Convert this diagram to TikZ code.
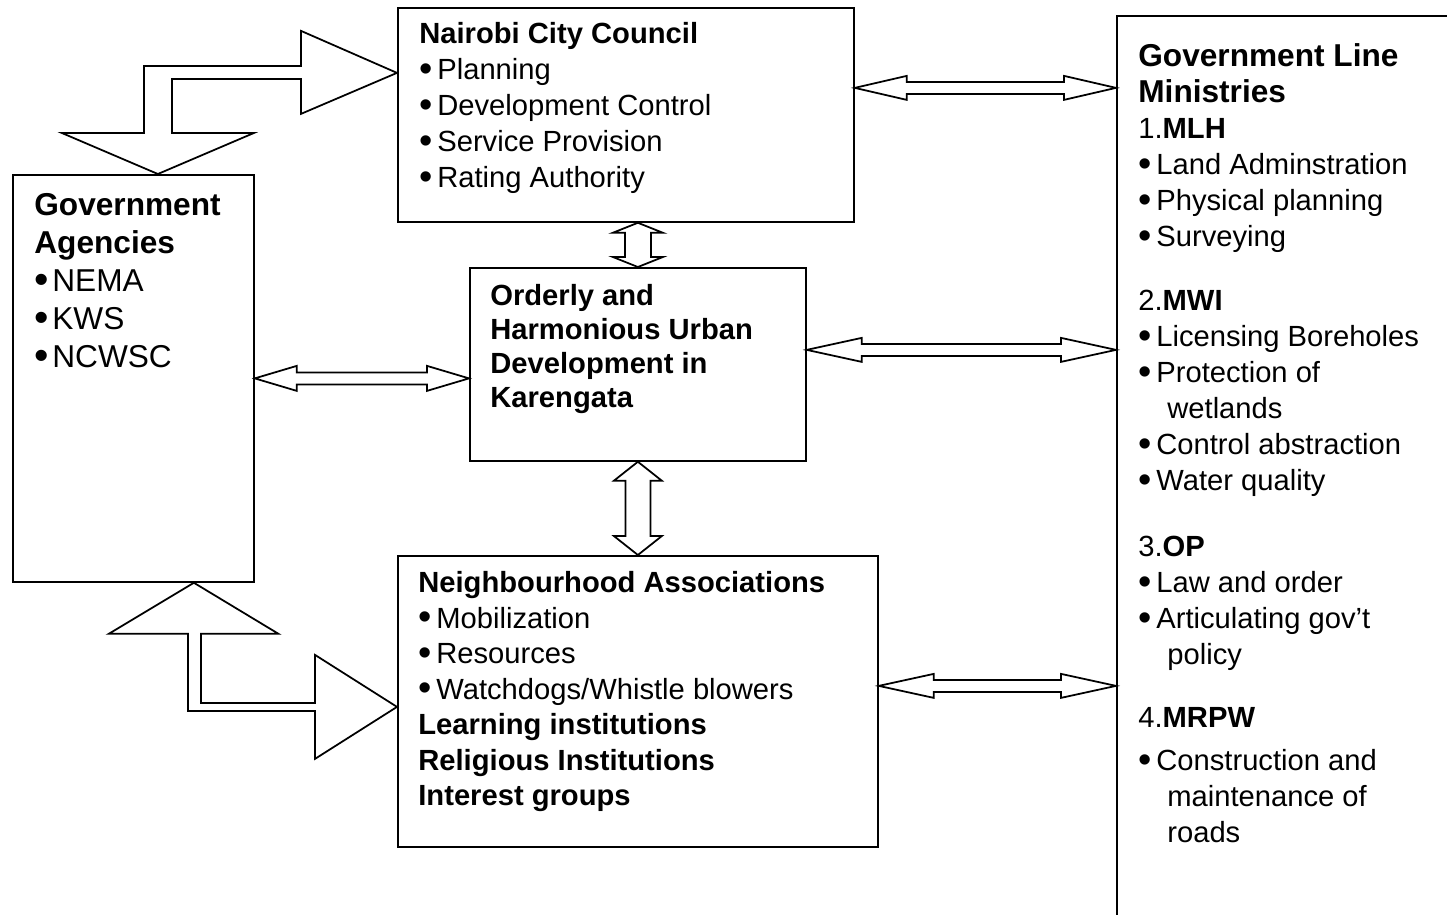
\documentclass[tikz,border=0pt]{standalone}
\usepackage{fontspec}
\setmainfont{Liberation Sans}
\usetikzlibrary{calc}
\newcommand{\itm}{\makebox[0.36cm][l]{\raisebox{-0.06em}{\scalebox{1.3}{\textbullet}}}}

\begin{document}
\begin{tikzpicture}
\tikzset{box/.style = {draw, line width=1pt, anchor=north west, inner sep=0pt}}
\tikzset{txt/.style = {anchor=north west, align=left, inner sep=0pt, font=\fontsize{16.6}{20.6}\selectfont}}
\tikzset{blk/.style = {draw, line width=1pt, line join=miter}}
\tikzset{dblh/.style args = {#1/#2/#3}{blk, to path={let \p1=(\tikztostart), \p2=(\tikztotarget) in
  (\p1) -- (\x1+#1,\y1+#2) -- (\x1+#1,\y1+#3) -- (\x2-#1,\y1+#3) -- (\x2-#1,\y1+#2) -- (\x2,\y1)
  -- (\x2-#1,\y1-#2) -- (\x2-#1,\y1-#3) -- (\x1+#1,\y1-#3) -- (\x1+#1,\y1-#2) -- cycle}}}
\tikzset{dblv/.style args = {#1/#2/#3}{blk, to path={let \p1=(\tikztostart), \p2=(\tikztotarget) in
  (\p1) -- (\x1+#2,\y1-#1) -- (\x1+#3,\y1-#1) -- (\x1+#3,\y2+#1) -- (\x1+#2,\y2+#1) -- (\x1,\y2)
  -- (\x1-#2,\y2+#1) -- (\x1-#3,\y2+#1) -- (\x1-#3,\y1-#1) -- (\x1-#2,\y1-#1) -- cycle}}}
\useasboundingbox (0,0) rectangle (28.94,-18.3);
\clip (0,0) rectangle (28.94,-18.3);

% boxes
\node[box, minimum width=9.12cm, minimum height=4.28cm] (ncc) at (7.94,-0.14) {};
\node[box, minimum width=4.82cm, minimum height=8.14cm] (ga) at (0.24,-3.48) {};
\node[box, minimum width=6.72cm, minimum height=3.86cm] (ohd) at (9.38,-5.34) {};
\node[box, minimum width=9.6cm, minimum height=5.82cm] (nba) at (7.94,-11.1) {};
\node[box, minimum width=8cm, minimum height=20cm] (glm) at (22.32,-0.3) {};

% texts
\node[txt] (ncctxt) at ([xshift=0.44cm,yshift=-0.21cm]ncc.north west)
  {\strut\textbf{Nairobi City Council}\\
   \itm Planning\\
   \itm Development Control\\
   \itm Service Provision\\
   \itm Rating Authority};
\node[txt, font=\fontsize{18}{21.6}\selectfont] (gatxt) at ([xshift=0.44cm,yshift=-0.29cm]ga.north west)
  {\strut\textbf{Government}\\
   \textbf{Agencies}\\
   \itm NEMA\\
   \itm KWS\\
   \itm NCWSC};
\node[txt, font=\fontsize{16.6}{19.4}\selectfont\bfseries] (ohdtxt) at ([xshift=0.42cm,yshift=-0.28cm]ohd.north west)
  {\strut Orderly and\\
   Harmonious Urban\\
   Development in\\
   Karengata};
\node[txt, font=\fontsize{16.6}{20.2}\selectfont] (nbatxt) at ([xshift=0.42cm,yshift=-0.25cm]nba.north west)
  {\strut\textbf{Neighbourhood Associations}\\
   \itm Mobilization\\
   \itm Resources\\
   \itm Watchdogs/Whistle blowers\\
   \textbf{Learning institutions}\\
   \textbf{Religious Institutions}\\
   \textbf{Interest groups}};
\node[txt, font=\fontsize{16.6}{20.5}\selectfont] (glmtxt) at ([xshift=0.44cm,yshift=-0.52cm]glm.north west)
  {\strut{\fontsize{18}{20.5}\selectfont\textbf{Government Line}}\\
   {\fontsize{18}{20.5}\selectfont\textbf{Ministries}}\\
   1.\textbf{MLH}\\
   \itm Land Adminstration\\
   \itm Physical planning\\
   \itm Surveying\\[16pt]
   2.\textbf{MWI}\\
   \itm Licensing Boreholes\\
   \itm Protection of\\
   \hspace*{0.58cm}wetlands\\
   \itm Control abstraction\\
   \itm Water quality\\[17pt]
   3.\textbf{OP}\\
   \itm Law and order\\
   \itm Articulating gov’t\\
   \hspace*{0.58cm}policy\\[15pt]
   4.\textbf{MRPW}\\[4pt]
   \itm Construction and\\
   \hspace*{0.58cm}maintenance of\\
   \hspace*{0.58cm}roads};

% connection points
\coordinate (nccr) at ([yshift=0.54cm]ncc.east);
\coordinate (ohdr) at ([yshift=0.29cm]ohd.east);
\coordinate (nbar) at ([yshift=0.31cm]nba.east);
\coordinate (nccl) at ([yshift=0.84cm]ncc.west);
\coordinate (gat) at ([xshift=0.49cm]ga.north);
\coordinate (gab) at ([xshift=1.21cm]ga.south);
\coordinate (nbal) at ([yshift=-0.11cm]nba.west);

% double arrows
\draw[dblh=1.04cm/0.24cm/0.12cm] (nccr) to (nccr -| glm.west);
\draw[dblh=1.1cm/0.24cm/0.12cm] (ohdr) to (ohdr -| glm.west);
\draw[dblh=1.1cm/0.24cm/0.12cm] (nbar) to (nbar -| glm.west);
\draw[dblh=0.84cm/0.25cm/0.12cm] (ga.east) to (ga.east -| ohd.west);
\draw[dblv=0.2cm/0.5cm/0.26cm] (ohd.north |- ncc.south) to (ohd.north);
\draw[dblv=0.38cm/0.48cm/0.25cm] (ohd.south) to (ohd.south |- nba.north);

% block arrows
\draw[blk] let \p1=(nccl), \p2=(gat) in
  (\p1) -- (\x1-1.92cm,\y1-0.82cm) -- (\x1-1.92cm,\y1-0.12cm) -- (\x2+0.28cm,\y1-0.12cm)
  -- (\x2+0.28cm,\y2+0.82cm) -- (\x2+1.92cm,\y2+0.82cm) -- (\p2) -- (\x2-1.92cm,\y2+0.82cm)
  -- (\x2-0.28cm,\y2+0.82cm) -- (\x2-0.28cm,\y1+0.14cm) -- (\x1-1.92cm,\y1+0.14cm)
  -- (\x1-1.92cm,\y1+0.84cm) -- cycle;
\draw[blk] let \p1=(gab), \p2=(nbal) in
  (\p1) -- (\x1+1.69cm,\y1-1.02cm) -- (\x1+0.14cm,\y1-1.02cm) -- (\x1+0.14cm,\y2+0.08cm)
  -- (\x2-1.64cm,\y2+0.08cm) -- (\x2-1.64cm,\y2+1.04cm) -- (\p2) -- (\x2-1.64cm,\y2-1.04cm)
  -- (\x2-1.64cm,\y2-0.08cm) -- (\x1-0.12cm,\y2-0.08cm) -- (\x1-0.12cm,\y1-1.02cm)
  -- (\x1-1.7cm,\y1-1.02cm) -- cycle;
\end{tikzpicture}
\end{document}
